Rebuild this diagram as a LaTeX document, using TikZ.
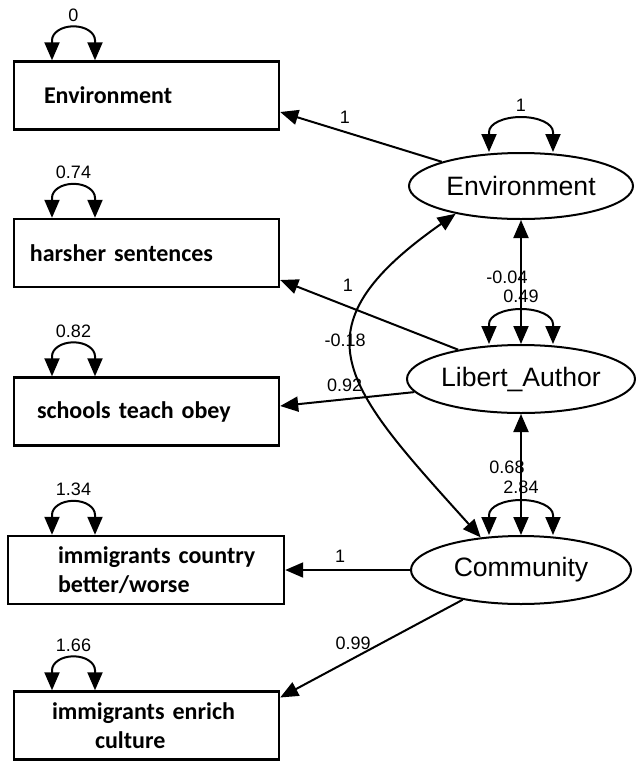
\documentclass[tikz,border=0pt]{standalone}
\usepackage{fontspec}
\setmainfont{Liberation Sans}
\newfontfamily\carlito{Carlito}
\usetikzlibrary{arrows.meta,shapes.geometric}

\begin{document}
\begin{tikzpicture}[x=0.5pt,y=-0.5pt,line width=1pt,
  obsbox/.style={draw,line width=1.2pt,minimum height=34pt,text width=132.5pt,inner xsep=0pt,inner ysep=1pt,align=left,font=\carlito\bfseries\fontsize{12}{14.5}\selectfont},
  latent/.style={draw,ellipse,inner sep=0pt,font=\fontsize{13.3}{16}\selectfont},
  lbl/.style={font=\fontsize{9}{10}\selectfont,inner sep=1pt},
  sem/.style={-{Triangle[length=9pt,width=7.5pt]}},
  cov/.style={{Triangle[length=9pt,width=7.5pt]}-{Triangle[length=9pt,width=7.5pt]}}]
\useasboundingbox (0,0) rectangle (636,761);

% observed variables
\node[obsbox] (envobs) at (146.5,95.5) {\hspace*{15pt}Environment};
\node[obsbox] (harsh) at (146.5,253) {\hspace*{8pt}harsher sentences};
\node[obsbox] (obey) at (146.5,411.5) {\hspace*{11.5pt}schools teach obey};
\node[obsbox,text width=138pt] (immcountry) at (146,570) {\hspace*{25pt}immigrants country\\\hspace*{25pt}better/worse};
\node[obsbox] (immculture) at (146.5,725.5) {\hspace*{19pt}immigrants enrich\\\hspace*{40.5pt}culture};

% latent variables
\node[latent,minimum width=112pt,minimum height=33pt] (env) at (521,186) {Environment};
\node[latent,minimum width=114pt,minimum height=34pt] (lib) at (521,379) {Libert\_Author};
\node[latent,minimum width=110pt,minimum height=34pt] (com) at (521,570) {Community};

% loadings
\draw[sem] (env.163) -- node[lbl,pos=0.6,above=2.5pt]{1} ([yshift=-8.25pt]envobs.east);
\draw[sem] (lib.155) -- node[lbl,pos=0.62,above=6pt]{1} ([yshift=-13.5pt]harsh.east);
\draw[sem] (lib.187) -- node[lbl,pos=0.52,above=2.5pt]{0.92} ([yshift=2.75pt]obey.east);
\draw[sem] (com.west) -- node[lbl,pos=0.56,above=2.5pt]{1} (immcountry.east);
\draw[sem] (com.207) -- node[lbl,pos=0.6,above=3pt]{0.99} ([yshift=14pt]immculture.east);

% covariances
\draw[cov] (env.south) -- node[lbl,pos=0.46,xshift=-7pt]{-0.04} (lib.north);
\draw[cov] (lib.south) -- node[lbl,pos=0.44,xshift=-7pt]{0.68} (com.north);
\draw[cov] (env.203) to[out=215,in=132,looseness=1.6] node[lbl,pos=0.42,xshift=-4pt]{-0.18} (com.141);

% variances of observed variables
\draw[cov] ([xshift=-47.25pt]envobs.north) -- ++(0,10pt) arc[start angle=180,end angle=0,x radius=10.75pt,y radius=7pt] -- ++(0,-10pt);
\node[lbl,above] (venvobs) at ([xshift=-36.5pt,yshift=18pt]envobs.north) {0};
\draw[cov] ([xshift=-47.25pt]harsh.north) -- ++(0,10pt) arc[start angle=180,end angle=0,x radius=10.75pt,y radius=7pt] -- ++(0,-10pt);
\node[lbl,above] (vharsh) at ([xshift=-36.5pt,yshift=18pt]harsh.north) {0.74};
\draw[cov] ([xshift=-47.25pt]obey.north) -- ++(0,10pt) arc[start angle=180,end angle=0,x radius=10.75pt,y radius=7pt] -- ++(0,-10pt);
\node[lbl,above] (vobey) at ([xshift=-36.5pt,yshift=18pt]obey.north) {0.82};
\draw[cov] ([xshift=-47pt]immcountry.north) -- ++(0,10pt) arc[start angle=180,end angle=0,x radius=10.75pt,y radius=7pt] -- ++(0,-10pt);
\node[lbl,above] (vimmcountry) at ([xshift=-36.25pt,yshift=18pt]immcountry.north) {1.34};
\draw[cov] ([xshift=-47.25pt]immculture.north) -- ++(0,10pt) arc[start angle=180,end angle=0,x radius=10.75pt,y radius=7pt] -- ++(0,-10pt);
\node[lbl,above] (vimmculture) at ([xshift=-36.5pt,yshift=18pt]immculture.north) {1.66};

% variances of latent variables
\draw[cov] ([xshift=-16pt]env.north) -- ++(0,10pt) arc[start angle=180,end angle=0,x radius=16pt,y radius=7.5pt] -- ++(0,-10pt);
\node[lbl,above] (venv) at ([yshift=19pt]env.north) {1};
\draw[cov] ([xshift=-16pt]lib.north) -- ++(0,10pt) arc[start angle=180,end angle=0,x radius=16pt,y radius=7.5pt] -- ++(0,-10pt);
\node[lbl,above] (vlib) at ([yshift=19pt]lib.north) {0.49};
\draw[cov] ([xshift=-16pt]com.north) -- ++(0,10pt) arc[start angle=180,end angle=0,x radius=16pt,y radius=7.5pt] -- ++(0,-10pt);
\node[lbl,above] (vcom) at ([yshift=19pt]com.north) {2.84};
\end{tikzpicture}
\end{document}
